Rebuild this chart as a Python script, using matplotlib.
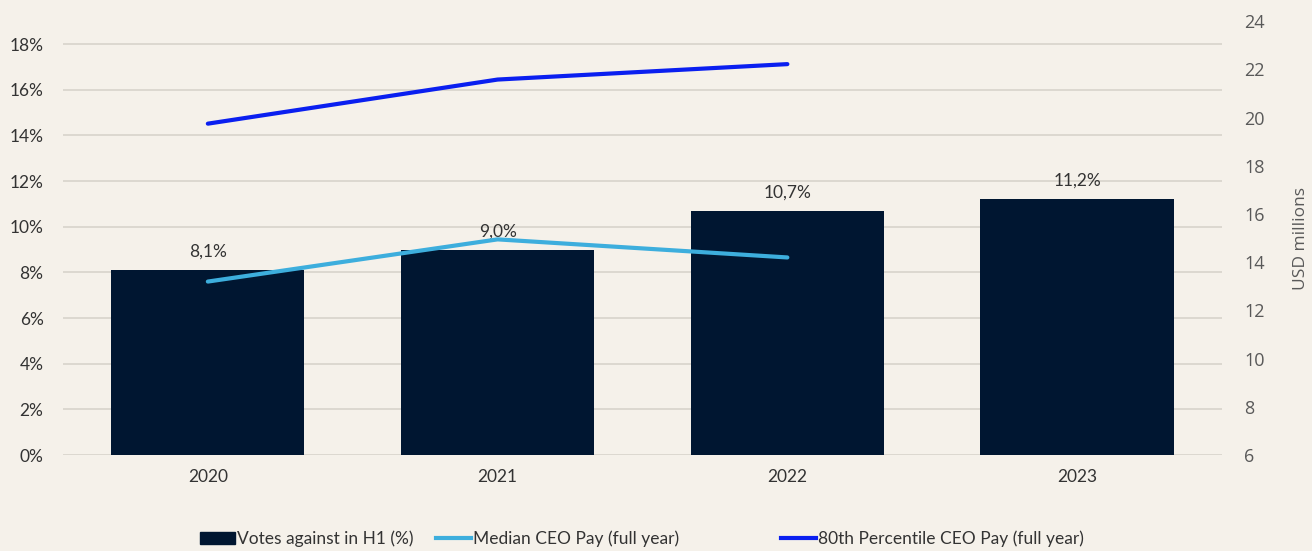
import matplotlib
matplotlib.use("Agg")
import matplotlib.pyplot as plt
from matplotlib.ticker import FuncFormatter
from matplotlib.lines import Line2D
from matplotlib.patches import Patch

years = ["2020", "2021", "2022", "2023"]
votes_against = [8.1, 9.0, 10.7, 11.2]
vote_labels = ["8,1%", "9,0%", "10,7%", "11,2%"]
median_pay = [13.2, 14.95, 14.2]
p80_pay = [19.75, 21.58, 22.22]
line_years = years[:3]

bg = "#F5F1EA"
bar_c = "#001631"
med_c = "#3DAEDD"
p80_c = "#0A1FF0"
grid_c = "#D8D3CB"

plt.rcParams['font.family'] = ['Lato', 'DejaVu Sans']

fig = plt.figure(figsize=(13.12, 5.51), dpi=100, facecolor=bg)
ax = fig.add_axes([0.048, 0.174, 0.8834, 0.7875], facecolor=bg)
x = list(range(len(years)))
ax.bar(x, votes_against, width=0.667, color=bar_c, zorder=2)
ax.set_ylim(0, 19)
ax.set_xlim(-0.5, 3.5)
ax.set_yticks(range(0, 19, 2))
ax.yaxis.set_major_formatter(FuncFormatter(lambda v, p: f"{int(v)}%"))
ax.grid(axis='y', color=grid_c, linewidth=1.2, zorder=0)
ax.set_axisbelow(True)
for s in ax.spines.values():
    s.set_visible(False)
ax.tick_params(axis='y', length=0, pad=14, labelsize=12.5, labelcolor="#333333")
ax.tick_params(axis='x', length=0, pad=10, labelsize=12.5, labelcolor="#333333")
ax.set_xticks(x)
ax.set_xticklabels(years)
for xi, v, lab in zip(x, votes_against, vote_labels):
    ax.text(xi, v + 0.45, lab, ha='center', va='bottom', fontsize=12.5, color="#333333", zorder=4)

ax2 = ax.twinx()
ax2.set_ylim(6, 24)
ax2.set_yticks(range(6, 25, 2))
for s in ax2.spines.values():
    s.set_visible(False)
ax2.tick_params(axis='y', length=0, pad=16, labelsize=13, labelcolor="#595959")
for t in ax2.get_yticklabels():
    t.set_family(['Open Sans', 'DejaVu Sans'])
lx = [years.index(y) for y in line_years]
ax2.plot(lx, median_pay, color=med_c, linewidth=3, solid_capstyle='round', zorder=3)
ax2.plot(lx, p80_pay, color=p80_c, linewidth=3, solid_capstyle='round', zorder=3)
ax2.set_ylabel("USD millions", fontsize=12.5, color="#595959", labelpad=20,
               family=['Open Sans', 'DejaVu Sans'])

handles = [Patch(facecolor=bar_c, edgecolor=bar_c),
           Line2D([], [], color=med_c, linewidth=3),
           Line2D([], [], color=p80_c, linewidth=3)]
labels = ["Votes against in H1 (%)", "Median CEO Pay (full year)", "80th Percentile CEO Pay (full year)"]
starts = [200, 436, 781]
W, H = 1312, 551
for h, lab, sx in zip(handles, labels, starts):
    fig.legend([h], [lab], loc='center left', bbox_to_anchor=(sx / W, 1 - 539 / H),
               frameon=False, fontsize=12.5, handlelength=2.0, handletextpad=0.15,
               borderaxespad=0, borderpad=0, labelcolor="#333333")

fig.savefig("out.png", dpi=100, facecolor=bg)
